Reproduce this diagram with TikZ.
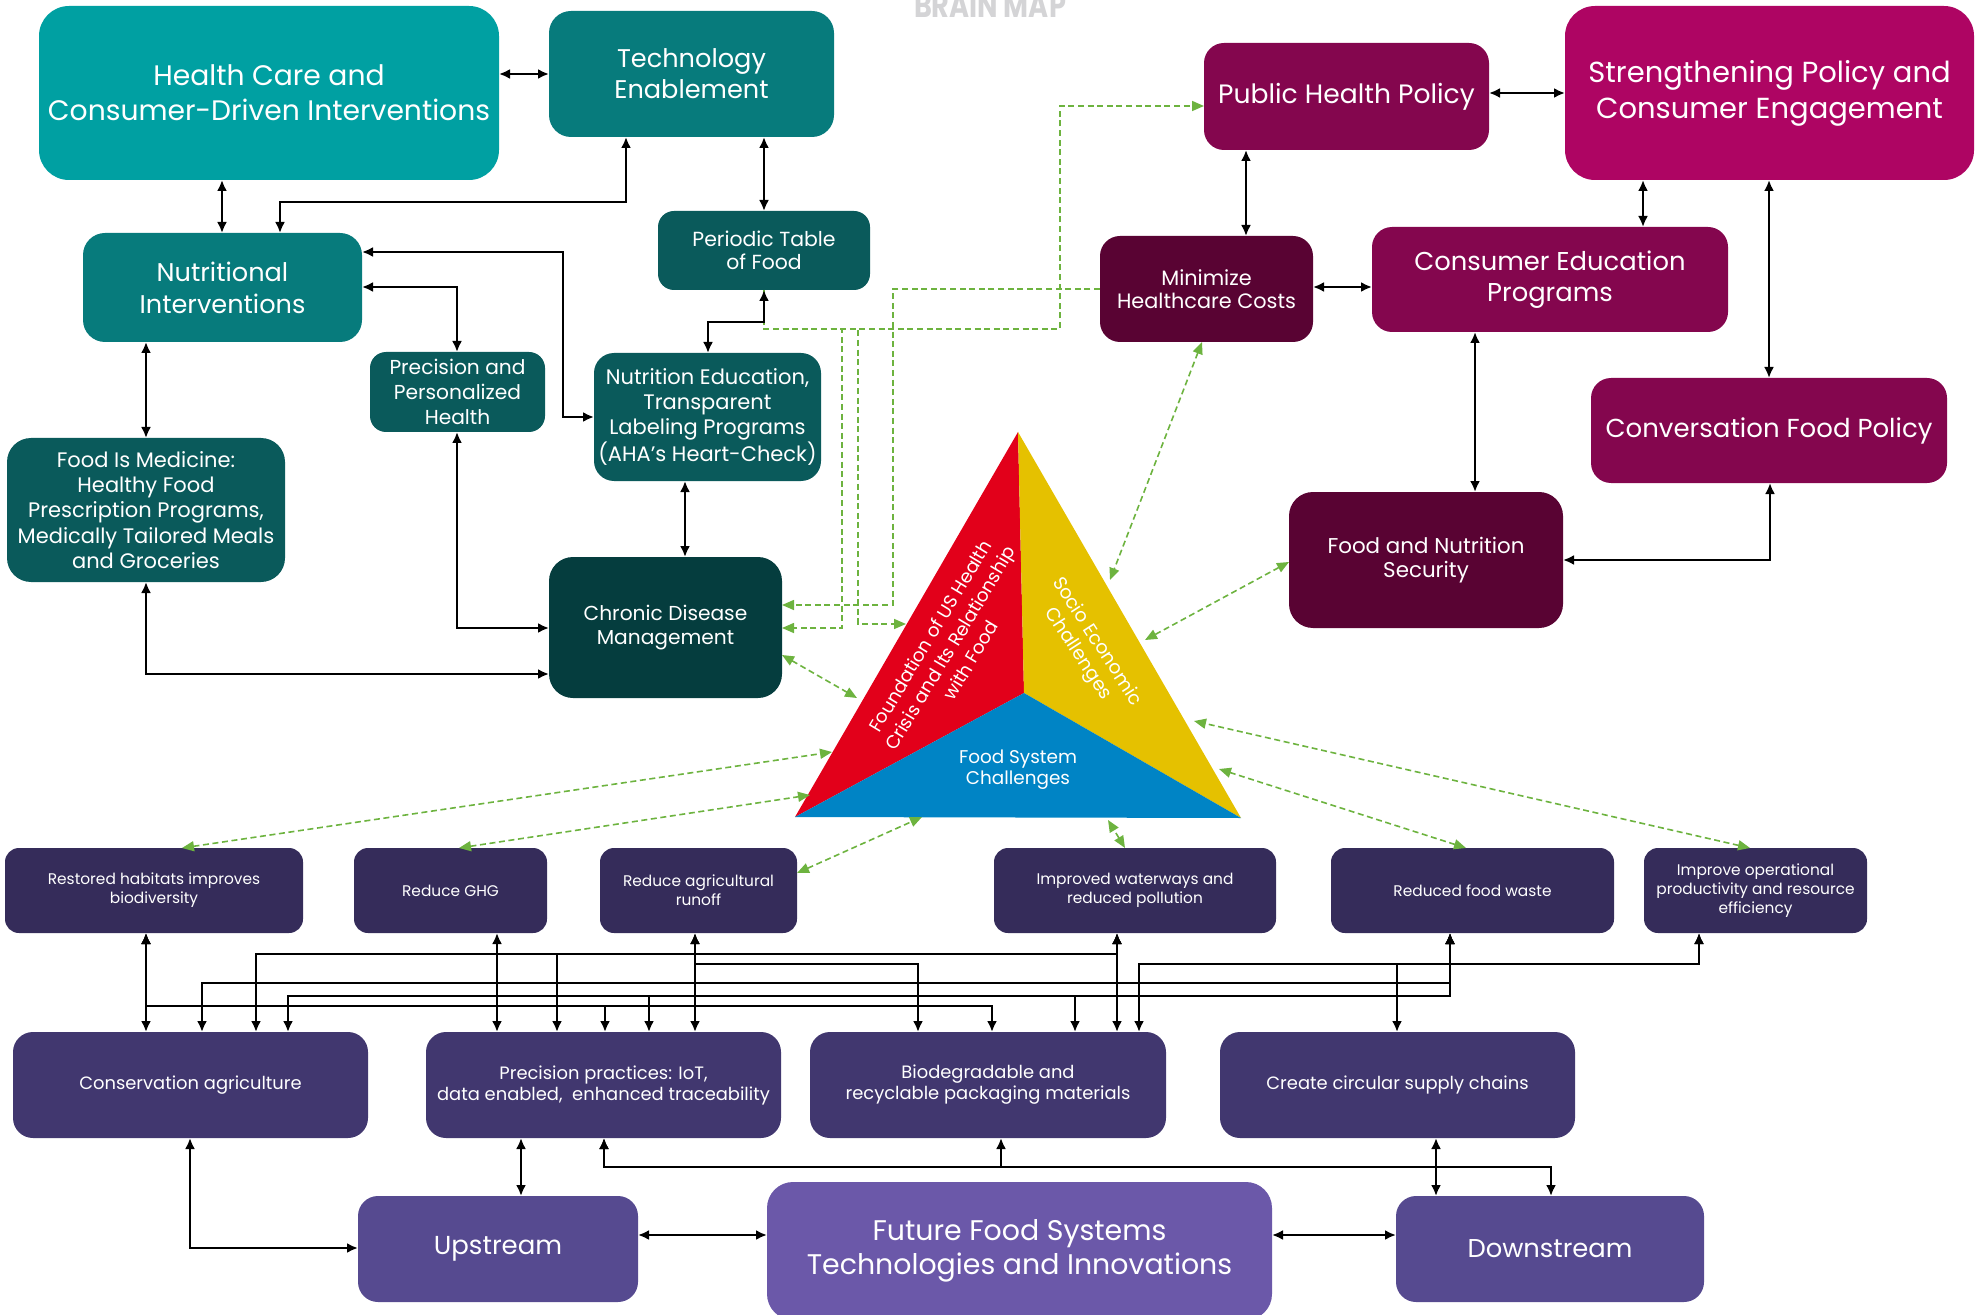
\documentclass[tikz,border=0pt]{standalone}
\usepackage{fontspec}
\setmainfont{Poppins}
\usetikzlibrary{arrows.meta}
\definecolor{tealA}{HTML}{00A0A2}
\definecolor{tealB}{HTML}{077B7C}
\definecolor{tealC}{HTML}{0A5A5B}
\definecolor{tealD}{HTML}{053D3E}
\definecolor{magA}{HTML}{AE0563}
\definecolor{magB}{HTML}{84064E}
\definecolor{magC}{HTML}{590333}
\definecolor{purA}{HTML}{352C5A}
\definecolor{purB}{HTML}{41376F}
\definecolor{purC}{HTML}{564A90}
\definecolor{purD}{HTML}{6B58A9}
\definecolor{grn}{HTML}{6DB33F}
\definecolor{tred}{HTML}{E2001A}
\definecolor{tyel}{HTML}{E5C100}
\definecolor{tblu}{HTML}{0084C5}
\definecolor{bmgray}{HTML}{D4D4D6}
\newcommand\fsz[2]{\fontsize{#1}{#2}\selectfont}
\newcommand\mkbox[7]{%
  \pgfmathsetmacro\bw{(#4-#2)/2}%
  \pgfmathsetmacro\bh{(#5-#3)/2}%
  \node[box,#6,minimum width=\bw pt,minimum height=\bh pt] (#1) at ({(#2+#4)/2},{(#3+#5)/2}) {#7};}
\tikzset{
  box/.style={rounded corners=10pt, inner sep=0pt, outer sep=0pt, align=center, text=white},
  bk/.style={draw=black, line width=1.1pt, >={Latex[length=5.5pt,width=5pt]}},
  gd/.style={draw=grn, line width=0.8pt, dash pattern=on 3pt off 1.8pt, >={Triangle[length=6pt,width=5pt]}},
}
\begin{document}
\begin{tikzpicture}[x=0.5pt,y=-0.5pt]
\useasboundingbox (0,0) rectangle (1984,1315);
\node[text=bmgray, font=\bfseries\fsz{17}{20}, xscale=0.8, anchor=base] (bm) at (990,18) {BRAIN MAP};

% ---------------- top left (teal) ----------------
\mkbox{hc}{39}{6}{499}{180}{fill=tealA, rounded corners=15pt, font=\fsz{14.1}{17.5}}{Health Care and\\Consumer-Driven Interventions}
\mkbox{tech}{549}{11}{834}{137}{fill=tealB, rounded corners=11pt, font=\fsz{12.8}{15.5}}{Technology\\Enablement}
\mkbox{ni}{83}{233}{362}{342}{fill=tealB, rounded corners=11pt, font=\fsz{12.8}{16}}{Nutritional\\Interventions}
\mkbox{per}{658}{211}{870}{290}{fill=tealC, rounded corners=8pt, font=\fsz{10.2}{11.7}}{Periodic Table\\of Food}
\mkbox{pph}{370}{352}{545}{432}{fill=tealC, rounded corners=8pt, font=\fsz{10.1}{12.7}}{Precision and\\Personalized\\Health}
\mkbox{ned}{594}{353}{821}{481}{fill=tealC, rounded corners=10pt, font=\fsz{10.5}{12.5}}{Nutrition Education,\\Transparent\\Labeling Programs\\(AHA’s Heart-Check)}
\mkbox{fim}{7}{438}{285}{582}{fill=tealC, rounded corners=12pt, font=\fsz{10.5}{12.6}}{Food Is Medicine:\\Healthy Food\\Prescription Programs,\\Medically Tailored Meals\\and Groceries}
\mkbox{cdm}{549}{557}{782}{698}{fill=tealD, rounded corners=12pt, font=\fsz{10.1}{11.8}}{Chronic Disease\\Management}

% ---------------- top right (magenta) ----------------
\mkbox{php}{1204}{43}{1489}{150}{fill=magB, rounded corners=10pt, font=\fsz{13.3}{14}}{Public Health Policy}
\mkbox{str}{1565}{6}{1974}{180}{fill=magA, rounded corners=15pt, font=\fsz{14.5}{18}}{Strengthening Policy and\\Consumer Engagement}
\mkbox{mhc}{1100}{236}{1313}{342}{fill=magC, rounded corners=10pt, font=\fsz{10.4}{11.6}}{Minimize\\Healthcare Costs}
\mkbox{ced}{1372}{227}{1728}{332}{fill=magB, rounded corners=10pt, font=\fsz{12.9}{15.5}}{Consumer Education\\Programs}
\mkbox{cfp}{1591}{378}{1947}{483}{fill=magB, rounded corners=10pt, font=\fsz{13}{14}}{Conversation Food Policy}
\mkbox{fns}{1289}{492}{1563}{628}{fill=magC, rounded corners=12pt, font=\fsz{10.7}{12}}{Food and Nutrition\\Security}

% ---------------- triangle ----------------
\coordinate (apex) at (1018,432);
\coordinate (tbl) at (795,817);
\coordinate (tbr) at (1241,818);
\coordinate (tc) at (1024,693);
\fill[tred] (apex) -- (tbl) -- (tc) -- cycle;
\fill[tyel] (apex) -- (tc) -- (tbr) -- cycle;
\fill[tblu] (tbl) -- (tc) -- (tbr) -- cycle;
\node[text=white, align=center, rotate=59, font=\fsz{9.2}{11.8}] (tred) at (950,648) {Foundation of US Health\\Crisis and Its Relationship\\with Food};
\node[text=white, align=center, rotate=-57, font=\fsz{9.4}{11.2}] (tyel) at (1087,648) {Socio Economic\\Challenges};
\node[text=white, align=center, font=\fsz{9.2}{10.5}] (tblu) at (1018,770) {Food System\\Challenges};

% triangle attachment points
\coordinate (ta1) at (857,698);
\coordinate (ta2) at (1110,580);
\coordinate (ta3) at (1145,640);
\coordinate (ta4) at (832,752);
\coordinate (ta5) at (810,795);
\coordinate (ta6) at (922,817);
\coordinate (ta7) at (1108,820);
\coordinate (ta8) at (1219,769);
\coordinate (ta9) at (1194,721);
\coordinate (ta10) at (906,624);

% ---------------- bottom ----------------
\mkbox{rest}{5}{848}{303}{933}{fill=purA, rounded corners=7pt, font=\fsz{7.7}{9.5}}{Restored habitats improves\\biodiversity}
\mkbox{ghg}{354}{848}{547}{933}{fill=purA, rounded corners=7pt, font=\fsz{7.7}{9.5}}{Reduce GHG}
\mkbox{run}{600}{848}{797}{933}{fill=purA, rounded corners=7pt, font=\fsz{7.7}{9.5}}{Reduce agricultural\\runoff}
\mkbox{wat}{994}{848}{1276}{933}{fill=purA, rounded corners=7pt, font=\fsz{7.7}{9.5}}{Improved waterways and\\reduced pollution}
\mkbox{was}{1331}{848}{1614}{933}{fill=purA, rounded corners=7pt, font=\fsz{7.7}{9.5}}{Reduced food waste}
\mkbox{opr}{1644}{848}{1867}{933}{fill=purA, rounded corners=7pt, font=\fsz{7.7}{9.5}}{Improve operational\\productivity and resource\\efficiency}
\mkbox{cons}{13}{1032}{368}{1138}{fill=purB, rounded corners=10pt, font=\fsz{8.95}{10.5}}{Conservation agriculture}
\mkbox{prec}{426}{1032}{781}{1138}{fill=purB, rounded corners=10pt, font=\fsz{8.95}{10.5}}{Precision practices: IoT,\\data enabled,\ \ enhanced traceability}
\mkbox{bio}{810}{1032}{1166}{1138}{fill=purB, rounded corners=10pt, font=\fsz{8.95}{10.5}}{Biodegradable and\\recyclable packaging materials}
\mkbox{circ}{1220}{1032}{1575}{1138}{fill=purB, rounded corners=10pt, font=\fsz{8.95}{10.5}}{Create circular supply chains}
\mkbox{up}{358}{1196}{638}{1302}{fill=purC, rounded corners=10pt, font=\fsz{13}{16}}{Upstream}
\mkbox{fut}{767}{1182}{1272}{1320}{fill=purD, rounded corners=13pt, font=\fsz{14.2}{17}}{Future Food Systems\\Technologies and Innovations}
\mkbox{down}{1396}{1196}{1704}{1302}{fill=purC, rounded corners=10pt, font=\fsz{12.9}{16}}{Downstream}

% ---------------- green dashed connectors ----------------
\draw[gd,->] (per.south -| 764,0) -- (764,329) -- (1060,329) -- (1060,106) -- (php.west |- 0,106);
\draw[gd,->] (per.south -| 764,0) -- (764,329) -- (842,329) -- (842,628) -- (cdm.east |- 0,628);
\draw[gd,->] (per.south -| 764,0) -- (764,329) -- (858,329) -- (858,624) -- (ta10);
\draw[gd,->] (mhc.west |- 0,289) -- (893,289) -- (893,605) -- (cdm.east |- 0,605);
\draw[gd,<->] (cdm.east |- 0,655) -- (ta1);
\draw[gd,<->] (mhc.south -| 1202,0) -- (ta2);
\draw[gd,<->] (fns.west |- 0,562) -- (ta3);
\draw[gd,<->] (rest.north -| 182,0) -- (ta4);
\draw[gd,<->] (ghg.north -| 459,0) -- (ta5);
\draw[gd,<->] (run.east |- 0,873) -- (ta6);
\draw[gd,<->] (wat.north -| 1125,0) -- (ta7);
\draw[gd,<->] (was.north -| 1466,0) -- (ta8);
\draw[gd,<->] (opr.north -| 1750,0) -- (ta9);

% ---------------- black connectors (top) ----------------
\draw[bk,<->] (hc.east |- 0,74) -- (tech.west |- 0,74);
\draw[bk,<->] (hc.south -| 222,0) -- (ni.north -| 222,0);
\draw[bk,<->] (tech.south -| 626,0) -- (626,202) -- (280,202) -- (ni.north -| 280,0);
\draw[bk,<->] (tech.south -| 764,0) -- (per.north -| 764,0);
\draw[bk,<->] (ni.east |- 0,252) -- (563,252) -- (563,417) -- (ned.west |- 0,417);
\draw[bk,<->] (ni.east |- 0,287) -- (457,287) -- (pph.north -| 457,0);
\draw[bk,<->] (ni.south -| 146,0) -- (fim.north -| 146,0);
\draw[bk,<->] (per.south -| 764,0) -- (764,322) -- (708,322) -- (ned.north -| 708,0);
\draw[bk,<->] (ned.south -| 685,0) -- (cdm.north -| 685,0);
\draw[bk,<->] (pph.south -| 457,0) -- (457,628) -- (cdm.west |- 0,628);
\draw[bk,<->] (fim.south -| 146,0) -- (146,674) -- (cdm.west |- 0,674);

\draw[bk,<->] (php.east |- 0,93) -- (str.west |- 0,93);
\draw[bk,<->] (php.south -| 1246,0) -- (mhc.north -| 1246,0);
\draw[bk,<->] (mhc.east |- 0,287) -- (ced.west |- 0,287);
\draw[bk,<->] (str.south -| 1643,0) -- (ced.north -| 1643,0);
\draw[bk,<->] (str.south -| 1769,0) -- (cfp.north -| 1769,0);
\draw[bk,<->] (ced.south -| 1475,0) -- (fns.north -| 1475,0);
\draw[bk,<->] (cfp.south -| 1770,0) -- (1770,560) -- (fns.east |- 0,560);

% ---------------- black connectors (bottom bus) ----------------
\draw[bk,<->] (rest.south -| 146,0) -- (cons.north -| 146,0);
\draw[bk,<->] (rest.south -| 146,0) -- (146,1006) -| (prec.north -| 605,0);
\draw[bk,<->] (rest.south -| 146,0) -- (146,1006) -| (bio.north -| 992,0);
\draw[bk,<->] (ghg.south -| 497,0) -- (prec.north -| 497,0);
\draw[bk,<->] (run.south -| 695,0) -- (prec.north -| 695,0);
\draw[bk,<->] (run.south -| 695,0) -- (695,964) -| (bio.north -| 918,0);
\draw[bk,<->] (wat.south -| 1117,0) -- (bio.north -| 1117,0);
\draw[bk,<->] (wat.south -| 1117,0) -- (1117,954) -| (cons.north -| 256,0);
\draw[bk,<->] (wat.south -| 1117,0) -- (1117,954) -| (prec.north -| 557,0);
\draw[bk,<->] (was.south -| 1450,0) -- (1450,983) -| (cons.north -| 202,0);
\draw[bk,<->] (was.south -| 1450,0) -- (1450,996) -| (cons.north -| 288,0);
\draw[bk,<->] (was.south -| 1450,0) -- (1450,996) -| (prec.north -| 649,0);
\draw[bk,<->] (was.south -| 1450,0) -- (1450,996) -| (bio.north -| 1075,0);
\draw[bk,<->] (opr.south -| 1699,0) -- (1699,964) -| (bio.north -| 1139,0);
\draw[bk,<->] (opr.south -| 1699,0) -- (1699,964) -| (circ.north -| 1397,0);

% ---------------- black connectors (lowest) ----------------
\draw[bk,<->] (cons.south -| 190,0) -- (190,1248) -- (up.west |- 0,1248);
\draw[bk,<->] (prec.south -| 521,0) -- (up.north -| 521,0);
\draw[bk,<->] (up.east |- 0,1235) -- (fut.west |- 0,1235);
\draw[bk,<->] (fut.east |- 0,1235) -- (down.west |- 0,1235);
\draw[bk,<->] (circ.south -| 1436,0) -- (down.north -| 1436,0);
\draw[bk,<->] (prec.south -| 604,0) -- (604,1167) -| (bio.south -| 1001,0);
\draw[bk,<->] (prec.south -| 604,0) -- (604,1167) -| (down.north -| 1551,0);
\end{tikzpicture}
\end{document}
